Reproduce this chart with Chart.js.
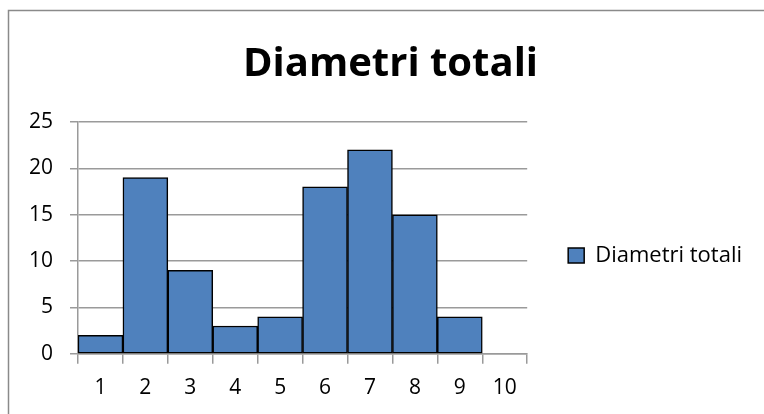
<!DOCTYPE html>
<html>
<head>
<meta charset="utf-8">
<script src="https://cdn.jsdelivr.net/npm/chart.js@4/dist/chart.umd.min.js"></script>
<style>
  html, body { margin: 0; padding: 0; background: #ffffff; }
  #wrap { width: 764px; height: 414px; }
</style>
</head>
<body>
<div id="wrap"><canvas id="c" width="764" height="414"></canvas></div>
<script>
// Histogram data: diameter classes and how many fall in each
const chartTitle = 'Diametri totali';
const seriesName = 'Diametri totali';
const classes = ['1', '2', '3', '4', '5', '6', '7', '8', '9', '10'];
const counts = [2, 19, 9, 3, 4, 18, 22, 15, 4, null];
const yMin = 0;
const yMax = 25;
const yStep = 5;

const FONT = '"Open Sans", "Noto Sans", sans-serif';
const GRID = '#9a9a9a';

// White background plus the thin grey frame along the top and left edges
const framePlugin = {
  id: 'frame',
  beforeDraw(chart) {
    const ctx = chart.ctx;
    ctx.save();
    ctx.fillStyle = '#ffffff';
    ctx.fillRect(0, 0, chart.width, chart.height);
    ctx.strokeStyle = '#8a8a8a';
    ctx.lineWidth = 1.5;
    ctx.beginPath();
    ctx.moveTo(8.5, chart.height);
    ctx.lineTo(8.5, 10.5);
    ctx.lineTo(chart.width, 10.5);
    ctx.stroke();
    ctx.restore();
  }
};

// Moves the side legend down so its entry sits beside the middle of the plot
const legendOffsetPlugin = {
  id: 'legendOffset',
  afterLayout(chart) {
    const lg = chart.legend;
    if (!lg) return;
    const shift = 44;
    lg.top += shift;
    lg.bottom += shift;
  }
};

new Chart(document.getElementById('c'), {
  type: 'bar',
  data: {
    labels: classes,
    datasets: [{
      label: seriesName,
      data: counts,
      backgroundColor: '#4f81bd',
      borderColor: '#000000',
      borderWidth: 1.5,
      borderSkipped: false,
      barPercentage: 1,
      categoryPercentage: 1
    }]
  },
  options: {
    responsive: false,
    animation: false,
    devicePixelRatio: 1,
    layout: { padding: { left: 29, right: 12, top: 10, bottom: 1 } },
    plugins: {
      title: {
        display: true,
        text: chartTitle,
        color: '#000000',
        font: { family: FONT, size: 40, weight: 'bold' },
        padding: { top: 31, bottom: 33 }
      },
      legend: {
        display: true,
        position: 'right',
        maxWidth: 240,
        labels: {
          color: '#000000',
          font: { family: FONT, size: 22 },
          boxWidth: 16,
          boxHeight: 15,
          padding: 41
        }
      },
      tooltip: { enabled: false }
    },
    scales: {
      x: {
        offset: true,
        grid: {
          display: true,
          drawOnChartArea: false,
          drawTicks: true,
          tickLength: 10,
          color: GRID,
          lineWidth: 1.5
        },
        border: { display: true, color: GRID, width: 1.5 },
        ticks: {
          color: '#000000',
          font: { family: FONT, size: 21 },
          padding: 12,
          maxRotation: 0
        }
      },
      y: {
        min: yMin,
        max: yMax,
        afterFit(scale) { scale.width = 49; },
        grid: {
          color: GRID,
          lineWidth: 1.5,
          tickLength: 8
        },
        border: { display: true, color: GRID, width: 1.5 },
        ticks: {
          stepSize: yStep,
          color: '#000000',
          font: { family: FONT, size: 21 },
          padding: 17
        }
      }
    }
  },
  plugins: [framePlugin, legendOffsetPlugin]
});
</script>
</body>
</html>
